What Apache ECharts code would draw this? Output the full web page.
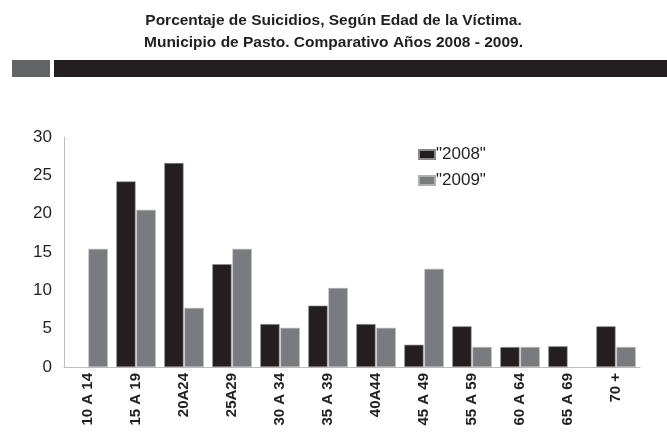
<!DOCTYPE html>
<html><head><meta charset="utf-8">
<script src="https://cdn.jsdelivr.net/npm/echarts@6/dist/echarts.min.js"></script>
<style>html,body{margin:0;padding:0;background:#fff}#c{width:667px;height:432px}</style>
</head><body><div id="c"></div>
<script>
var categories = ["10 A 14","15 A 19","20A24","25A29","30 A 34","35 A 39","40A44","45 A 49","55 A 59","60 A 64","65 A 69","70 +"];
var s2008 = [null,24.2,26.6,13.4,5.6,8.0,5.6,2.9,5.3,2.6,2.7,5.3];
var s2009 = [15.4,20.5,7.7,15.4,5.1,10.3,5.1,12.8,2.6,2.6,null,2.6];
var yTicks = [0,5,10,15,20,25,30];
var titleLines = ["Porcentaje de Suicidios, Según Edad de la Víctima.","Municipio de Pasto. Comparativo Años 2008 - 2009."];

var chart = echarts.init(document.getElementById('c'));
chart.setOption({
  animation:false,
  backgroundColor:'#fff',
  textStyle:{fontFamily:'Liberation Sans, Arial, sans-serif'},
  title:{text:titleLines.join('\n'),left:'center',top:5,
    textStyle:{fontSize:15.5,fontWeight:'bold',color:'#231f20',lineHeight:22,fontFamily:'Liberation Sans, Arial, sans-serif'}},
  graphic:[
    {type:'rect',shape:{x:12,y:60,width:38,height:17},style:{fill:'#636466'}},
    {type:'rect',shape:{x:54,y:60,width:613,height:17},style:{fill:'#231f20'}}
  ],
  legend:{orient:'vertical',left:413,top:141,itemWidth:16,itemHeight:9,itemGap:9,
    icon:'rect',
    textStyle:{fontSize:17,color:'#231f20',padding:[0,0,0,-4]},
    data:['"2008"','"2009"']},
  grid:{left:64,right:27,top:137,bottom:65,containLabel:false},
  xAxis:{type:'category',data:categories,
    axisLine:{lineStyle:{color:'#bdbdbd',width:1}},
    axisTick:{show:false},
    axisLabel:{rotate:90,fontSize:15,fontWeight:'bold',color:'#231f20',margin:6,interval:0}},
  yAxis:{type:'value',min:0,max:30,interval:5,
    axisLine:{show:true,lineStyle:{color:'#bdbdbd',width:1}},
    axisTick:{show:false},splitLine:{show:false},
    axisLabel:{fontSize:17,color:'#231f20',margin:12,
      formatter:function(v){return yTicks.indexOf(v)>=0?String(v):'';}}},
  series:[
    {name:'"2008"',type:'bar',data:s2008,barGap:'5%',barCategoryGap:'18%',
      itemStyle:{color:'#231f20',borderColor:'#8a8a8a',borderWidth:0.6}},
    {name:'"2009"',type:'bar',data:s2009,
      itemStyle:{color:'#7a7b7e',borderColor:'#b0b0b0',borderWidth:0.6}}
  ]
});
</script></body></html>
